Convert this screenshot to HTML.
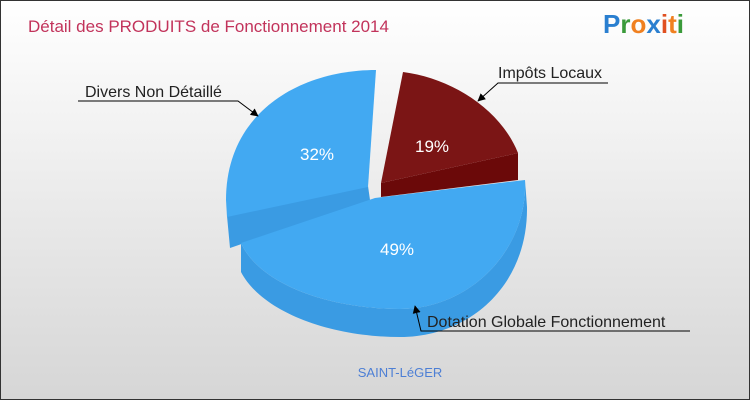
<!DOCTYPE html>
<html><head><meta charset="utf-8"><style>
html,body{margin:0;padding:0}
body{width:750px;height:400px;overflow:hidden}
</style></head><body>
<svg width="750" height="400" xmlns="http://www.w3.org/2000/svg" font-family="Liberation Sans, sans-serif">
<defs>
<linearGradient id="bg" x1="0" y1="0" x2="0" y2="1">
<stop offset="0" stop-color="#ffffff"/><stop offset="1" stop-color="#d6d6d6"/>
</linearGradient>
<marker id="ar" viewBox="0 0 10 10" refX="9" refY="5" markerWidth="8" markerHeight="8" orient="auto">
<path d="M0,0 L10,5 L0,10 z" fill="#000"/></marker>
</defs>
<rect x="0.5" y="0.5" width="749" height="399" fill="url(#bg)" stroke="#333"/>
<text x="28" y="32" font-size="17" fill="#c2335b">Détail des PRODUITS de Fonctionnement 2014</text>
<text x="603" y="33" font-size="26" font-weight="bold" fill="#2a7fd0">P<tspan fill="#3a9a3a">r</tspan><tspan fill="#f08020">o</tspan><tspan fill="#2a7fd0">x</tspan><tspan fill="#e05020">i</tspan><tspan fill="#f08020">t</tspan><tspan fill="#3a9a3a">i</tspan></text>
<!-- 32% -->
<path d="M227,216 L368,186 L370,200 L230,248 Z" fill="#3a9be3"/>
<path d="M368,187 L376,70 C300,70 226,112 226,200 L227,217 Z" fill="#42a9f2"/>
<!-- 19% -->
<path d="M381,183 L518,153 L518,180 L381,197 Z" fill="#6b0909"/>
<path d="M381,183 L403,72 C450,78 500,108 518,153 Z" fill="#7b1515"/>
<!-- 49% -->
<path d="M525,180 C528,250 470,309 400,309 C330,309 260,285 241,243 L241,272 C262,312 330,337 400,337 C470,337 528,285 527,207 Z" fill="#3a9be3"/>
<path d="M375,198 L525,180 C528,250 470,309 400,309 C330,309 260,285 241,243 Z" fill="#42a9f2"/>
<g fill="#fff" font-size="17">
<text x="300" y="160">32%</text>
<text x="415" y="152">19%</text>
<text x="380" y="255">49%</text>
</g>
<g stroke="#000" fill="none" stroke-width="1">
<path d="M78,101 L238,101 L258,116" marker-end="url(#ar)"/>
<path d="M608,83 L498,83 L478,101" marker-end="url(#ar)"/>
<path d="M690,331 L421,331 L415,306" marker-end="url(#ar)"/>
</g>
<g fill="#222" font-size="16">
<text x="85" y="97">Divers Non Détaillé</text>
<text x="498" y="78">Impôts Locaux</text>
<text x="427" y="327">Dotation Globale Fonctionnement</text>
</g>
<text x="400" y="377" font-size="13" fill="#4d7fd5" text-anchor="middle">SAINT-LéGER</text>
</svg>
</body></html>
